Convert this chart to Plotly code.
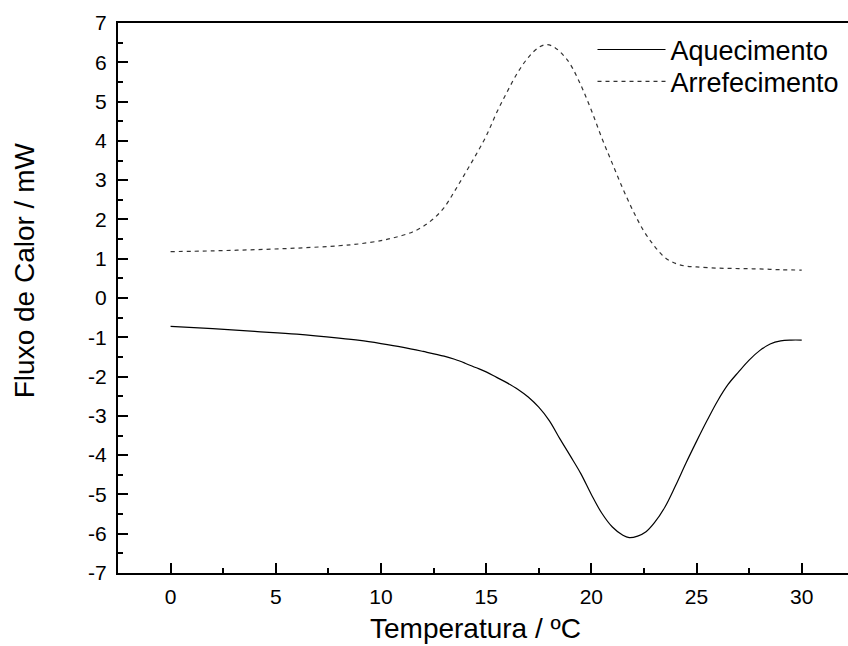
import plotly.graph_objects as go

# Aquecimento (heating) - solid
aq_x = [0, 2, 4, 6, 8, 9, 10, 11, 12, 13, 13.5, 14, 14.5, 15, 15.5, 16, 16.5, 17, 17.5,
        18, 18.5, 19, 19.5, 20, 20.5, 21, 21.5, 21.8, 22.2, 22.6, 23, 23.5, 24, 24.5,
        25, 25.5, 26, 26.5, 27, 27.5, 28, 28.5, 29, 29.5, 30]
aq_y = [-0.72, -0.78, -0.85, -0.92, -1.02, -1.08, -1.16, -1.25, -1.36, -1.48, -1.56,
        -1.66, -1.77, -1.88, -2.02, -2.16, -2.32, -2.52, -2.78, -3.12, -3.58, -4.02,
        -4.47, -5.00, -5.48, -5.83, -6.04, -6.10, -6.06, -5.95, -5.72, -5.32, -4.78,
        -4.20, -3.65, -3.12, -2.62, -2.20, -1.88, -1.58, -1.34, -1.17, -1.09, -1.07,
        -1.07]

# Arrefecimento (cooling) - dashed
ar_x = [0, 2, 4, 6, 8, 9, 10, 10.5, 11, 11.5, 12, 12.5, 13, 13.5, 14, 14.5, 15, 15.5,
        16, 16.5, 17, 17.5, 17.9, 18.3, 18.7, 19, 19.5, 20, 20.5, 21, 21.5, 22, 22.5,
        23, 23.5, 24, 24.5, 25, 26, 27, 28, 29, 30]
ar_y = [1.18, 1.20, 1.23, 1.27, 1.33, 1.38, 1.46, 1.52, 1.59, 1.68, 1.82, 2.02, 2.30,
        2.72, 3.17, 3.63, 4.12, 4.72, 5.25, 5.74, 6.12, 6.38, 6.45, 6.36, 6.16, 5.95,
        5.42, 4.78, 4.07, 3.42, 2.78, 2.20, 1.70, 1.32, 1.03, 0.88, 0.81, 0.79, 0.76,
        0.75, 0.74, 0.72, 0.71]

x_ticks = [0, 5, 10, 15, 20, 25, 30]
x_tick_labels = [str(v) for v in x_ticks]
y_ticks = list(range(-7, 8))
y_tick_labels = [str(v) for v in y_ticks]

x_title = "Temperatura / ºC"
y_title = "Fluxo de Calor / mW"

FONT = "Liberation Sans, Arial, sans-serif"

fig = go.Figure()
fig.add_trace(go.Scatter(x=aq_x, y=aq_y, mode="lines", name="Aquecimento", legend="legend",
                         line=dict(color="black", width=1.2, shape="spline", smoothing=1)))
fig.add_trace(go.Scatter(x=ar_x, y=ar_y, mode="lines", name="Arrefecimento", legend="legend2",
                         line=dict(color="#333333", width=1.2, dash="4px,4px",
                                   shape="spline", smoothing=1)))

leg_common = dict(xanchor="left", yanchor="middle", bgcolor="rgba(0,0,0,0)",
                  borderwidth=0, font=dict(size=27, family=FONT), itemwidth=68)

fig.update_layout(
    width=848, height=646,
    margin=dict(l=118, r=0, t=23, b=73),
    paper_bgcolor="white", plot_bgcolor="white",
    font=dict(family=FONT, color="black", size=21),
    legend=dict(x=0.65, y=0.951, **leg_common),
    legend2=dict(x=0.65, y=0.893, **leg_common),
    showlegend=True,
    annotations=[
        dict(text=x_title, xref="paper", yref="paper", x=0.490, y=-0.101,
             xanchor="center", yanchor="middle", showarrow=False,
             font=dict(size=28, family=FONT, color="black")),
        dict(text=y_title, xref="paper", yref="paper", x=-0.127, y=0.551,
             xanchor="center", yanchor="middle", showarrow=False, textangle=-90,
             font=dict(size=28, family=FONT, color="black")),
    ],
)
fig.update_xaxes(
    range=[-2.5, 32.2], tickmode="array", tickvals=x_ticks, ticktext=x_tick_labels,
    showline=True, linecolor="black", linewidth=2, mirror=True,
    ticks="inside", ticklen=10, tickwidth=2, tickcolor="black",
    minor=dict(ticks="inside", ticklen=5, tickwidth=2, tickcolor="black", dtick=2.5, tick0=0),
    showgrid=False, zeroline=False,
    tickfont=dict(size=21, family=FONT),
    ticklabelstandoff=4,
)
fig.update_yaxes(
    range=[-7, 7], tickmode="array", tickvals=y_ticks, ticktext=y_tick_labels,
    showline=True, linecolor="black", linewidth=2, mirror=False,
    ticks="inside", ticklen=10, tickwidth=2, tickcolor="black",
    minor=dict(ticks="inside", ticklen=5, tickwidth=2, tickcolor="black", dtick=0.5, tick0=0),
    showgrid=False, zeroline=False,
    tickfont=dict(size=21, family=FONT),
    ticklabelstandoff=5,
)

fig.write_html("out.html")
